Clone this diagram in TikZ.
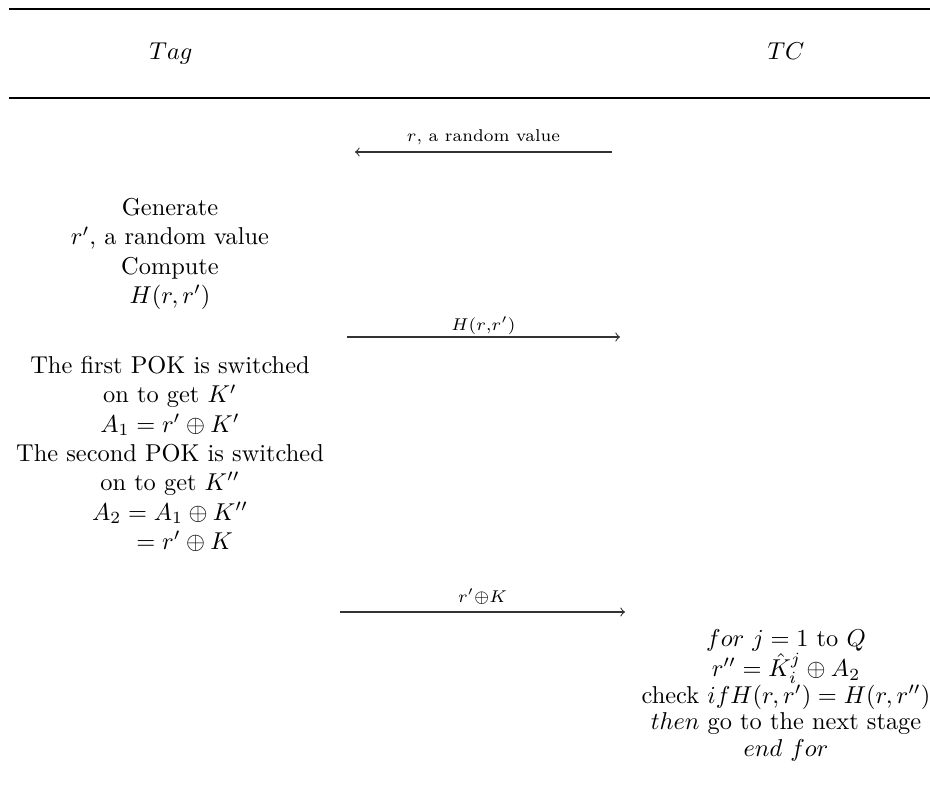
\documentclass[tikz,border=0pt]{standalone}
\usepackage{amsmath}
\newcommand{\tightlines}{\fontsize{10}{10.9}\selectfont}
\begin{document}
\begin{tikzpicture}[x=0.41pt,y=-0.41pt,
  hdr/.style={anchor=base,inner sep=0pt},
  blk/.style={anchor=north,align=center,inner sep=0pt,font=\normalsize},
  tight/.style={font=\tightlines},
  rule/.style={line width=0.8pt},
  msg/.style={->,line width=0.45pt,draw=black!80},
  lbl/.style={anchor=base,inner sep=0pt,font=\scriptsize,text=black}]
\useasboundingbox (0,0) rectangle (930,798);
% header rules
\coordinate (t1) at (9,9);
\coordinate (t2) at (930,9);
\coordinate (b1) at (9,98);
\coordinate (b2) at (930,98);
\draw[rule] (t1) -- (t2);
\draw[rule] (b1) -- (b2);
% headers
\node[hdr] (tag) at (171,60) {$Tag$};
\node[hdr] (tc) at (786,60) {$TC$};
% message 1
\coordinate (m1s) at (612,152);
\coordinate (m1e) at (355,152);
\draw[msg] (m1s) -- node[lbl,yshift=4.1pt] (l1) {$r$, a random value} (m1e);
% tag block 1
\node[blk] (gen) at (170,198) {Generate\\ $r'$, a random value\\ Compute\\ $H(r,r')$};
% message 2
\coordinate (m2s) at (347,337);
\coordinate (m2e) at (620,337);
\draw[msg] (m2s) -- node[lbl,yshift=2.5pt] (l2) {$H(r{,}r')$} (m2e);
% tag block 2
\node[blk] (pok) at (170,356) {The first POK is switched\\ on to get $K'$\\ $A_1 = r'\oplus K'$\\ The second POK is switched\\ on to get $K''$\\ $A_2 = A_1\oplus K''$\\ \hspace{1.2em}$= r'\oplus K$};
% message 3
\coordinate (m3s) at (340,612);
\coordinate (m3e) at (625,612);
\draw[msg] (m3s) -- node[lbl,yshift=3.7pt] (l3) {$r'{\oplus}K$} (m3e);
% TC block
\node[blk,tight] (chk) at (786,629) {$for\ j = 1$ to $Q$\\ $r'' = \hat{K}_i^j \oplus A_2$\\ check $if H(r,r') = H(r,r'')$\\ $then$ go to the next stage\\ $end\ for$};
\end{tikzpicture}
\end{document}
